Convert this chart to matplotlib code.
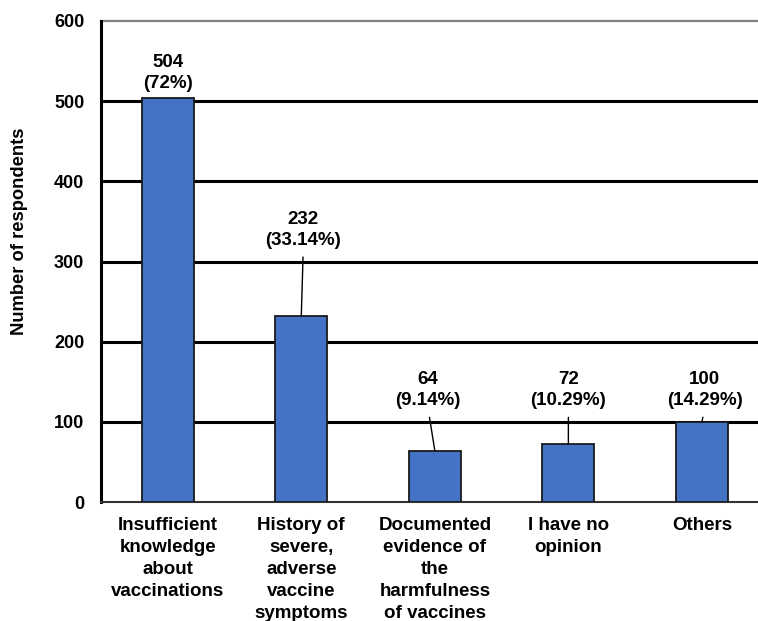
import matplotlib
matplotlib.use("Agg")
import matplotlib.pyplot as plt

plt.rcParams['font.family'] = ['Liberation Sans', 'DejaVu Sans']
plt.rcParams['font.weight'] = 'bold'

categories = [
    "Insufficient\nknowledge\nabout\nvaccinations",
    "History of\nsevere,\nadverse\nvaccine\nsymptoms",
    "Documented\nevidence of\nthe\nharmfulness\nof vaccines",
    "I have no\nopinion",
    "Others",
]
counts = [504, 232, 64, 72, 100]
percent_labels = ["72%", "33.14%", "9.14%", "10.29%", "14.29%"]
y_ticks = [0, 100, 200, 300, 400, 500, 600]

# label anchor (x offset from bar centre, text bottom in data units);
# None means the label sits directly on the bar
label_anchor = [None, (0.015, 316), (-0.05, 116), (0.0, 116), (0.02, 116)]

fig = plt.figure(figsize=(7.58, 6.21), dpi=100)
ax = fig.add_axes([0.1332, 0.1916, 0.8668, 0.7746])

x = list(range(len(categories)))
ax.bar(x, counts, width=0.39, color="#4472C4", edgecolor="#1a1a1a",
       linewidth=1.3, zorder=3)

ax.set_xlim(-0.5, 4.42)
ax.set_ylim(0, 600)
ax.set_yticks(y_ticks)
ax.set_yticklabels([str(t) for t in y_ticks], fontsize=13, fontweight='bold')
ax.set_xticks(x)
ax.set_xticklabels(categories, fontsize=13.5, fontweight='bold', linespacing=1.37)
ax.tick_params(axis='both', length=0)
ax.tick_params(axis='y', pad=12)
ax.tick_params(axis='x', pad=11)

for t in y_ticks[1:-1]:
    ax.axhline(t, color="black", linewidth=2.2, zorder=1)
ax.axhline(600, color="#808080", linewidth=1.6, zorder=1, clip_on=False)

for side in ("top", "right"):
    ax.spines[side].set_visible(False)
ax.spines["left"].set_linewidth(2.2)
ax.spines["left"].set_color("black")
ax.spines["bottom"].set_linewidth(1.5)
ax.spines["bottom"].set_color("#333333")

fig.text(20 / 758, 1 - 231 / 621, "Number of respondents", rotation=90,
         ha='center', va='center', fontsize=13.2, fontweight='bold')

for i, (v, p, anchor) in enumerate(zip(counts, percent_labels, label_anchor)):
    txt = f"{v}\n({p})"
    if anchor is None:
        ax.text(i, v + 8, txt, ha='center', va='bottom', fontsize=13.5,
                fontweight='bold', linespacing=1.3, zorder=4)
    else:
        dx, ty = anchor
        ax.annotate(txt, xy=(i, v), xytext=(i + dx, ty), textcoords='data',
                    ha='center', va='bottom', fontsize=13.5, fontweight='bold',
                    linespacing=1.3, zorder=4,
                    arrowprops=dict(arrowstyle='-', color='black', lw=1.0,
                                    shrinkA=4, shrinkB=0, relpos=(0.5, 0)))

fig.savefig("out.png", dpi=100, facecolor="white")
